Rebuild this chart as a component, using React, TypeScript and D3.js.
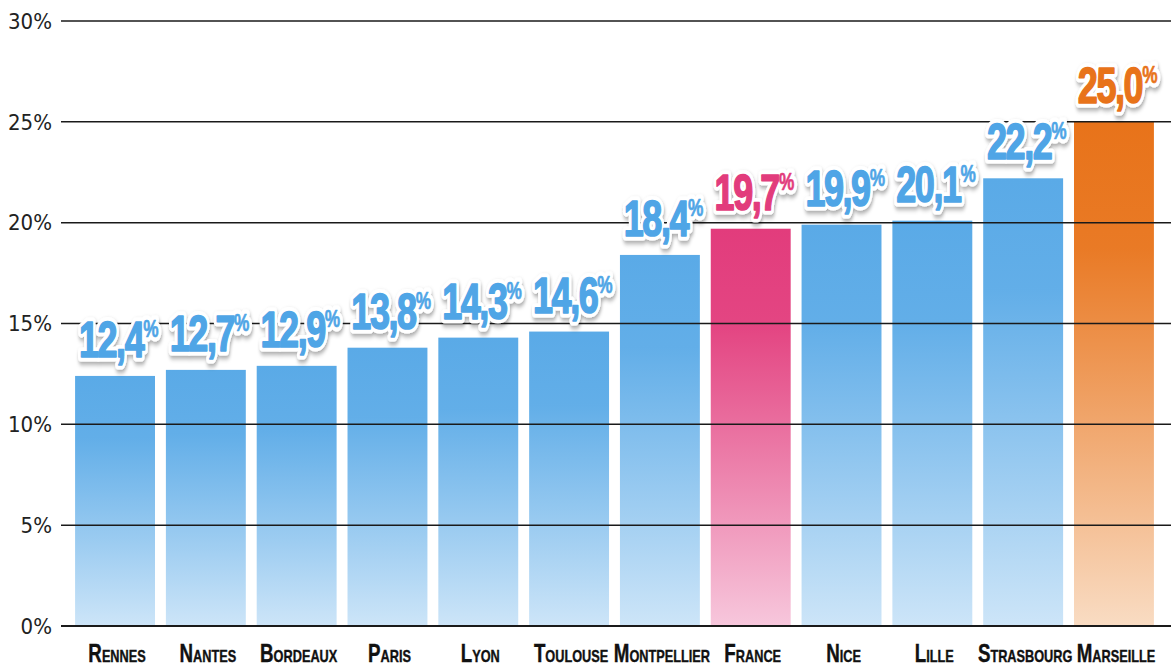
import React from "react";
import * as d3 from "d3";

const categories = ["Rennes", "Nantes", "Bordeaux", "Paris", "Lyon", "Toulouse", "Montpellier", "France", "Nice", "Lille", "Strasbourg", "Marseille"];
const values = [12.4, 12.7, 12.9, 13.8, 14.3, 14.6, 18.4, 19.7, 19.9, 20.1, 22.2, 25.0];
const kinds = ["city", "city", "city", "city", "city", "city", "city", "national", "city", "city", "city", "max"];
const yTicks = [0, 5, 10, 15, 20, 25, 30];

const W = 1171, H = 667;
const palette: Record<string, { top: string; bottom: string; label: string }> = {
  city: { top: "#5AAAE7", bottom: "#CDE5F8", label: "#4FA5E6" },
  national: { top: "#E23C7C", bottom: "#F7C7DC", label: "#E23C7C" },
  max: { top: "#E8731A", bottom: "#F9DCC3", label: "#E8731A" },
};

export default function App() {
  const x = d3.scaleBand<string>().domain(categories).range([66, 1163]).paddingInner(0.12).paddingOuter(0.1);
  const y = d3.scaleLinear().domain([0, 30]).range([626, 21]);
  const fmt = (v: number) => v.toFixed(1).replace(".", ",");
  return (
    <svg width={W} height={H} style={{ position: "absolute", left: 0, top: 0, background: "#fff" }}>
      <defs>
        {Object.entries(palette).map(([k, c]) => (
          <linearGradient key={k} id={`g-${k}`} x1="0" y1="0" x2="0" y2="1">
            <stop offset="0%" stopColor={c.top} />
            <stop offset="25%" stopColor={c.top} stopOpacity={0.95} />
            <stop offset="100%" stopColor={c.bottom} />
          </linearGradient>
        ))}
        <filter id="shadow" x="-20%" y="-20%" width="140%" height="160%">
          <feDropShadow dx="1" dy="3" stdDeviation="2.5" floodColor="#000" floodOpacity="0.35" />
        </filter>
      </defs>
      {categories.map((c, i) => (
        <rect key={c} x={x(c)} y={y(values[i])} width={x.bandwidth()} height={y(0) - y(values[i])} fill={`url(#g-${kinds[i]})`} />
      ))}
      {yTicks.map((t) => (
        <g key={t}>
          <line x1={61} x2={W} y1={y(t)} y2={y(t)} stroke="#1a1a1a" strokeWidth={t === 0 ? 1.8 : 1.5} />
          <text x={52} y={y(t)} dy="0.35em" textAnchor="end" fontFamily="'Liberation Sans Narrow', 'DejaVu Sans Condensed', sans-serif" fontSize={22} fill="#222">
            {t}%
          </text>
        </g>
      ))}
      {categories.map((c, i) => {
        const cx = x(c)! + x.bandwidth() / 2;
        const ty = y(values[i]) - 19;
        const col = palette[kinds[i]].label;
        const common = { textAnchor: "middle" as const, fontFamily: "'Liberation Sans Narrow', sans-serif", fontWeight: "bold", fontSize: 50, letterSpacing: -2 };
        return (
          <g key={c + "l"} transform={`translate(${cx + 3},${ty}) scale(0.72,1)`}>
            <text {...common} fill="#fff" stroke="#fff" strokeWidth={9} strokeLinejoin="round" filter="url(#shadow)">
              {fmt(values[i])}
              <tspan fontSize={24} dy={-20}>%</tspan>
            </text>
            <text {...common} fill={col} stroke={col} strokeWidth={1.6} strokeLinejoin="round">
              {fmt(values[i])}
              <tspan fontSize={24} dy={-20} strokeWidth={0.6}>%</tspan>
            </text>
          </g>
        );
      })}
      {categories.map((c) => (
        <g key={c + "c"} transform={`translate(${x(c)! + x.bandwidth() / 2 + 2},662) scale(0.75,1)`}>
          <text textAnchor="middle" fontFamily="'Liberation Sans Narrow', sans-serif" fontWeight="bold" fontSize={25} fill="#111" stroke="#111" strokeWidth={0.4} style={{ fontVariant: "small-caps" }}>
            {c}
          </text>
        </g>
      ))}
    </svg>
  );
}
